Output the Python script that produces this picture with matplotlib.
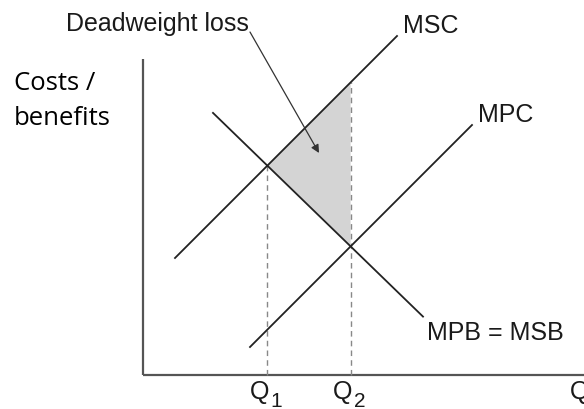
import numpy as np
import matplotlib.pyplot as plt
from matplotlib.patches import Polygon

# ---- curves: price = intercept + slope * quantity, drawn over [q_start, q_end]
msc = {"intercept": 8.5, "slope": 1.0, "q": (3.2, 25.4)}
mpc = {"intercept": -7.9, "slope": 1.0, "q": (10.7, 32.9)}
mpb = {"intercept": 33.0, "slope": -0.97, "q": (7.0, 28.0)}

curve_labels = ["MSC", "MPC", "MPB = MSB"]
label_pos = [(26.0, 34.3), (33.5, 25.4), (28.4, 3.6)]
ylabel_lines = ["Costs /", "benefits"]
ylabel_base = [28.6, 25.1]

x_max, y_max = 44.5, 31.6

def line(c, q):
    return c["intercept"] + c["slope"] * np.asarray(q)

def cross(a, b):
    q = (b["intercept"] - a["intercept"]) / (a["slope"] - b["slope"])
    return q, line(a, q)

q1, p1 = cross(msc, mpb)
q2, p2 = cross(mpc, mpb)
p_top = line(msc, q2)

plt.rcParams['font.family'] = ['Liberation Sans', 'DejaVu Sans']

fig = plt.figure(figsize=(5.84, 4.10), dpi=100)
ax = fig.add_axes([0, 0, 1, 1])
ax.set_xlim(-14.3, 44.1)
ax.set_ylim(-3.4, 37.6)
ax.axis('off')

# axes of the diagram
ax.plot([0, 0], [0, y_max], color='#555555', lw=1.6, solid_capstyle='butt')
ax.plot([0, x_max], [0, 0], color='#555555', lw=1.6, solid_capstyle='butt')

# deadweight loss triangle
ax.add_patch(Polygon([(q1, p1), (q2, p_top), (q2, p2)], closed=True,
                     facecolor='#d4d4d4', edgecolor='none', zorder=1))

# dashed guides
ax.plot([q1, q1], [0, p1], color='#888888', lw=1.0, ls=(0, (4, 3)), zorder=2)
ax.plot([q2, q2], [0, p_top], color='#888888', lw=1.0, ls=(0, (4, 3)), zorder=2)

for c, lab, (lx, ly) in zip([msc, mpc, mpb], curve_labels, label_pos):
    qq = np.array(c["q"])
    ax.plot(qq, line(c, qq), color='#222222', lw=1.3, zorder=3)
    ax.text(lx, ly, lab, fontsize=18, color='#1a1a1a', va='baseline', ha='left')

# labels
ax.text(1.45, 34.5, "Deadweight loss", fontsize=18, color='#1a1a1a',
        ha='center', va='baseline')
ax.annotate("", xy=(17.6, 22.2), xytext=(10.7, 34.3),
            arrowprops=dict(arrowstyle='-|>', color='#333333', lw=0.9,
                            mutation_scale=12, shrinkA=0, shrinkB=0))
for txt, yb in zip(ylabel_lines, ylabel_base):
    ax.text(-12.9, yb, txt, fontsize=18.5, color='black', ha='left',
            va='baseline', family=['Open Sans', 'DejaVu Sans'])

# quantity labels with subscripts
for q, sub in [(q1, "1"), (q2, "2")]:
    ax.text(q + 0.2, -2.3, "Q", fontsize=18, color='#1a1a1a',
            ha='right', va='baseline')
    ax.text(q + 0.3, -3.1, sub, fontsize=15, color='#1a1a1a',
            ha='left', va='baseline')
ax.text(42.7, -2.3, "Q", fontsize=18, color='#1a1a1a', ha='left', va='baseline')

fig.savefig("out.png", dpi=100)
